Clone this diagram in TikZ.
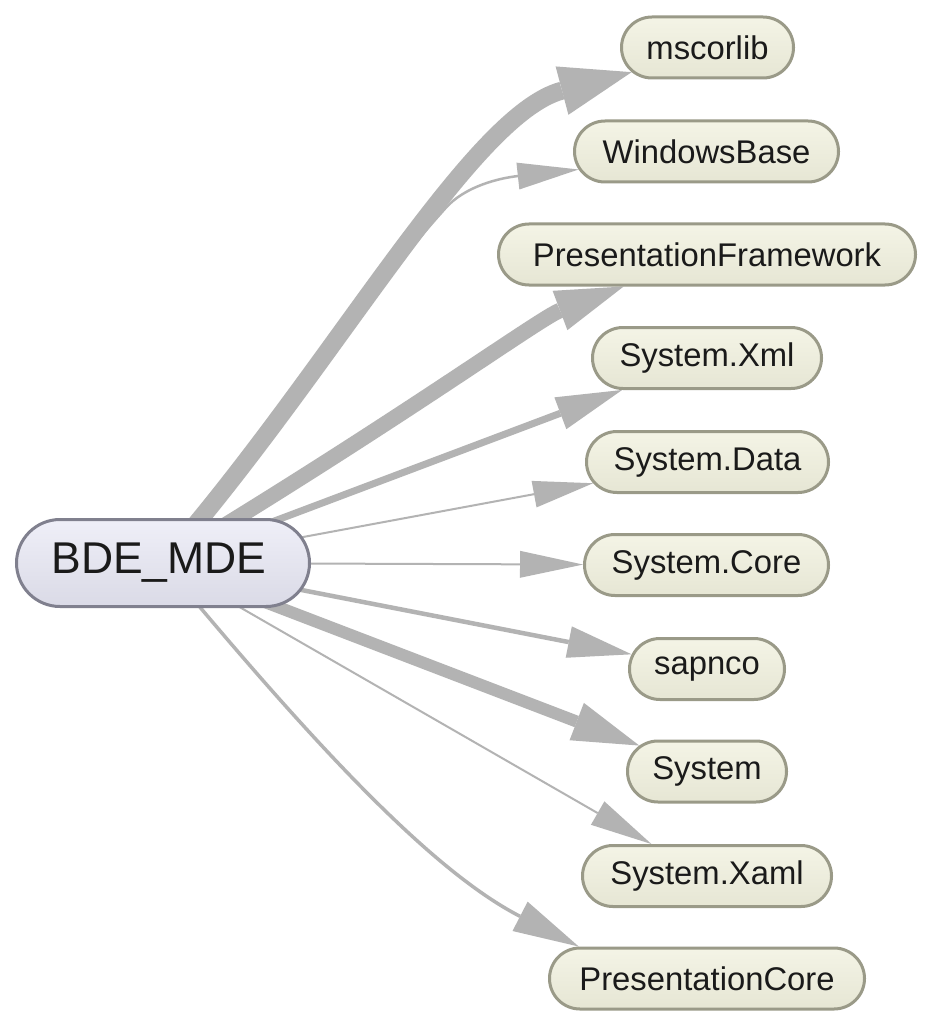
\documentclass[tikz,border=0pt]{standalone}
\usepackage{fontspec}
\setmainfont{Liberation Sans}
\usetikzlibrary{shapes.misc,arrows.meta}
\pgfdeclarelayer{bg}
\pgfsetlayers{bg,main}
\definecolor{edgec}{HTML}{B3B3B3}
\definecolor{ttop}{HTML}{F4F4E6}
\definecolor{tbot}{HTML}{E6E6D4}
\definecolor{tborder}{HTML}{9A9A88}
\definecolor{stop}{HTML}{EFEFF8}
\definecolor{sbot}{HTML}{DADAE6}
\definecolor{sborder}{HTML}{80808E}
\definecolor{txt}{HTML}{1A1A1A}
\begin{document}
\begin{tikzpicture}[x=1pt,y=-1pt,
  tnode/.style={rounded rectangle, draw=tborder, line width=3pt, top color=ttop, bottom color=tbot,
    minimum height=61pt, inner sep=0pt, font=\fontsize{32.8pt}{38pt}\selectfont, text=txt},
  srcnode/.style={rounded rectangle, draw=sborder, line width=3pt, top color=stop, bottom color=sbot,
    minimum height=87pt, minimum width=293pt, inner sep=0pt, font=\fontsize{44.5pt}{50pt}\selectfont, text=txt},
  edge/.style={draw=edgec, line cap=butt},
  tip/.style n args={2}{-{Triangle[length=#1pt,width=#2pt,line width=0pt]}}
]
\useasboundingbox (0,0) rectangle (931,1024);

\node[srcnode] (bde) at (163,563) {\hspace*{-8pt}BDE\_MDE};
\node[tnode, minimum width=172pt] (ms)  at (707.5,47.5) {mscorlib};
\node[tnode, minimum width=264pt] (wb)  at (706.5,151.5) {WindowsBase};
\node[tnode, minimum width=417pt] (pf)  at (707,254.5) {PresentationFramework};
\node[tnode, minimum width=229pt] (sx)  at (707,358) {System.Xml};
\node[tnode, minimum width=242pt] (sd)  at (707.5,462) {System.Data};
\node[tnode, minimum width=244pt] (sc)  at (706.5,565) {System.Core};
\node[tnode, minimum width=155pt] (sap) at (707,669) {sapnco};
\node[tnode, minimum width=159pt] (sys) at (707,771.5) {System};
\node[tnode, minimum width=249pt] (sxa) at (707,876) {System.Xaml};
\node[tnode, minimum width=315pt] (pc)  at (707,978.5) {PresentationCore};

\begin{pgfonlayer}{bg}
\fill[white] (0,0) rectangle (931,1024);
\draw[edge, line width=18pt, tip={72}{50}] (bde.center) .. controls (331,371) and (470,115) .. (ms.198);
\draw[edge, line width=2.5pt, tip={61}{27}] (bde.center) .. controls (263.8,447.8) and (354.2,309.6) .. (445.3,208.4)
   .. controls (465,186) and (500,178) .. (wb.188);
\draw[edge, line width=15.5pt, tip={68}{42}] (bde.center) .. controls (400,420) and (540,318) .. (pf.201);
\draw[edge, line width=7pt, tip={66}{34}] (bde.center) -- (sx);
\draw[edge, line width=2pt, tip={60}{27}] (bde.center) -- (sd);
\draw[edge, line width=2pt, tip={63}{27}] (bde.center) -- (sc);
\draw[edge, line width=4.5pt, tip={64}{32}] (bde.center) -- (sap);
\draw[edge, line width=12pt, tip={67}{40}] (bde.center) -- (sys);
\draw[edge, line width=2pt, tip={62}{27}] (bde.center) -- (sxa);
\draw[edge, line width=3.5pt, tip={66}{33}] (bde.center) .. controls (310,740) and (430,870) .. (pc.166);
\end{pgfonlayer}
\end{tikzpicture}
\end{document}
